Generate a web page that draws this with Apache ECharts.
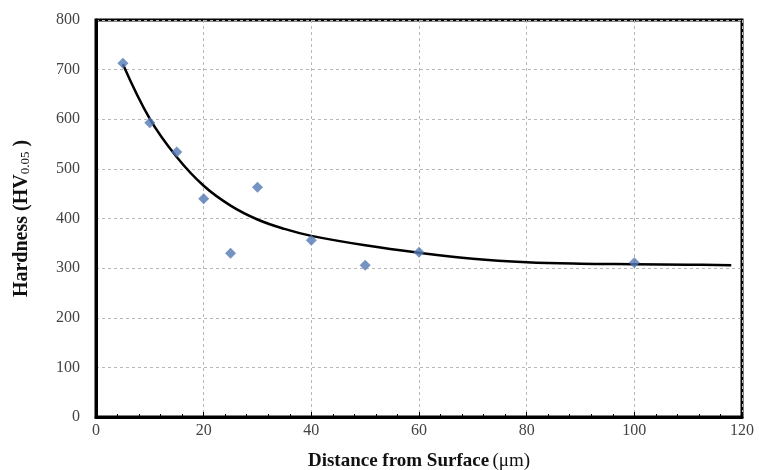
<!DOCTYPE html>
<html>
<head>
<meta charset="utf-8">
<script src="https://cdn.jsdelivr.net/npm/echarts@6/dist/echarts.min.js"></script>
<style>
  html, body { margin: 0; padding: 0; background: #fff; }
  #chart { width: 759px; height: 470px; }
</style>
</head>
<body>
<div id="chart"></div>
<script>
// measured hardness points (distance um, HV0.05)
var distance = [5, 10, 15, 20, 25, 30, 40, 50, 60, 100];
var hardness = [713, 593, 534, 440, 330, 463, 356, 306, 332, 311];

// trend line
var trendX = [5, 10, 15, 20, 25, 30, 35, 40, 50, 60, 70, 80, 90, 100, 110, 118];
var trendY = [711, 601, 524, 466, 426, 398, 379, 365, 346, 331, 319, 312, 309, 308, 307, 306];

var serif = '"Liberation Serif", "DejaVu Serif", serif';

var chart = echarts.init(document.getElementById('chart'));

var pts = [];
for (var i = 0; i < distance.length; i++) pts.push([distance[i], hardness[i]]);
var trend = [];
for (var j = 0; j < trendX.length; j++) trend.push([trendX[j], trendY[j]]);

chart.setOption({
  animation: false,
  backgroundColor: '#fff',
  grid: {
    left: 96, right: 17, top: 20, bottom: 53,
    outerBoundsMode: 'none',
    show: true, borderColor: '#000', borderWidth: 3, backgroundColor: 'transparent'
  },
  xAxis: {
    type: 'value', min: 0, max: 120, interval: 20,
    name: '{b|Distance from Surface} {n|(μm)}',
    nameLocation: 'middle', nameGap: 35,
    nameTextStyle: {
      rich: {
        b: { fontFamily: serif, fontWeight: 'bold', fontSize: 19, color: '#111' },
        n: { fontFamily: serif, fontSize: 19, color: '#111' }
      }
    },
    axisLine: { show: true, lineStyle: { color: '#000', width: 3 } },
    axisTick: { show: true, inside: true, length: 5, lineStyle: { color: '#000' } },
    minorTick: { show: true, splitNumber: 5, length: 3, lineStyle: { color: '#000' } },
    axisLabel: { fontFamily: serif, fontSize: 16, color: '#444', margin: 6 },
    splitLine: { show: true, lineStyle: { color: '#b8b8b8', type: [3, 3], width: 1 } }
  },
  yAxis: {
    type: 'value', min: 0, max: 800, interval: 100,
    name: '{b|Hardness (HV}{s|0.05}{b| )}',
    nameLocation: 'middle', nameGap: 64, nameRotate: 90,
    nameTextStyle: {
      rich: {
        b: { fontFamily: serif, fontWeight: 'bold', fontSize: 20, color: '#111' },
        s: { fontFamily: serif, fontSize: 13, color: '#111', verticalAlign: 'bottom', padding: [7, 0, 0, 0] }
      }
    },
    axisLine: { show: true, lineStyle: { color: '#000', width: 3 } },
    axisTick: { show: false },
    axisLabel: { fontFamily: serif, fontSize: 16, color: '#444', margin: 16 },
    splitLine: { show: true, lineStyle: { color: '#b8b8b8', type: [3, 3], width: 1 } }
  },
  series: [
    {
      type: 'line',
      data: trend,
      smooth: 0.4,
      showSymbol: false,
      lineStyle: { color: '#000', width: 2.5 },
      z: 2
    },
    {
      type: 'scatter',
      data: pts,
      symbol: 'diamond',
      symbolSize: 11,
      itemStyle: { color: '#5378b4' },
      z: 3
    }
  ]
});
</script>
</body>
</html>
